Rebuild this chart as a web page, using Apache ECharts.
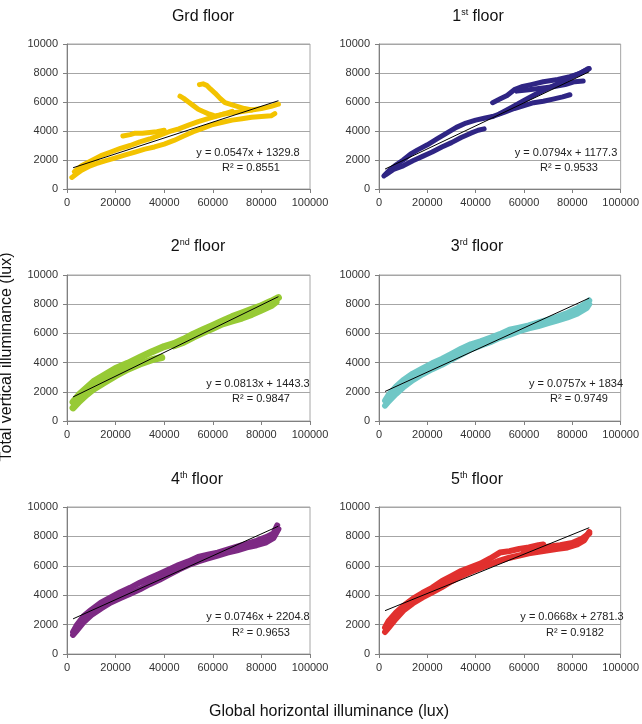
<!DOCTYPE html>
<html>
<head>
<meta charset="utf-8">
<script src="https://cdn.jsdelivr.net/npm/echarts@6/dist/echarts.min.js"></script>
<style>
  html, body { margin: 0; padding: 0; background: #fff; }
  #chart { width: 642px; height: 724px; }
</style>
</head>
<body>
<div id="chart"></div>
<script>
// panel titles (number + superscript)
const titleMain = ['Grd', '1', '2', '3', '4', '5'];
const titleSup = ['', 'st', 'nd', 'rd', 'th', 'th'];

// linear trendlines
const slopes = [0.0547, 0.0794, 0.0813, 0.0757, 0.0746, 0.0668];
const intercepts = [1329.8, 1177.3, 1443.3, 1834, 2204.8, 2781.3];
const rSquared = ['0.8551', '0.9533', '0.9847', '0.9749', '0.9653', '0.9182'];
const trendFrom = [2500, 2500, 2500, 2500, 2500, 2500];
const trendTo = [87000, 87000, 87000, 87000, 87000, 87000];

// Grd floor strands [global horizontal, total vertical]
const grdLow = [[2000,800],[4000,1050],[6000,1300],[9000,1550],[12000,1750],[16000,1950],[20000,2150],[24000,2350],[28000,2550],[32000,2750],[36000,2900],[40000,3100],[44000,3350],[48000,3650],[52000,3950],[56000,4200],[60000,4450],[64000,4600],[68000,4750],[72000,4850],[76000,4950],[80000,5000],[84000,5050],[85500,5200]];
const grdMid = [[3000,1200],[6000,1600],[10000,1950],[14000,2300],[18000,2550],[22000,2800],[26000,3000],[30000,3250],[34000,3450],[38000,3700],[42000,3950],[46000,4150],[50000,4400],[54000,4650],[58000,4850],[62000,5050],[66000,5250],[68000,5350]];
const grdShelf = [[23000,3650],[26000,3750],[28000,3850],[31000,3850],[34000,3900],[37000,3950],[40000,4050]];
const grdRight = [[60000,5000],[64000,5150],[68000,5250],[72000,5350],[76000,5450],[80000,5550],[84000,5700],[87000,5850]];
const grdDrop = [[46500,6400],[48000,6250],[50000,6000],[52000,5750],[54000,5500],[56000,5350],[58000,5200],[60000,5100]];
const grdPeak = [[54500,7200],[56000,7250],[57500,7150],[59000,6900],[61000,6600],[63000,6250],[65000,5950],[67000,5850],[70000,5700],[73000,5550],[76000,5450]];

// 1st floor strands
const f1Upper = [[2000,900],[4000,1250],[7000,1650],[10000,2000],[13000,2400],[16000,2700],[20000,3050],[24000,3450],[28000,3850],[32000,4250],[36000,4550],[40000,4750],[44000,4900],[47000,5000]];
const f1Lower = [[3000,1000],[6000,1350],[10000,1600],[14000,1950],[18000,2250],[22000,2550],[26000,2900],[30000,3200],[34000,3550],[38000,3850],[41000,4050],[43500,4150]];
const f1RightLow = [[47000,5000],[52000,5300],[56000,5550],[60000,5750],[64000,5950],[68000,6050],[72000,6200],[76000,6350],[79000,6500]];
const f1Trend = [[50000,5200],[55000,5650],[60000,6100],[65000,6550],[70000,6950],[75000,7350],[80000,7750],[84000,8050],[87000,8300]];
const f1Arc = [[47000,5950],[50000,6200],[53000,6450],[56000,6850],[59000,7050],[63000,7200],[68000,7400],[74000,7550],[79000,7750],[83000,7950],[86500,8300]];
const f1Mid = [[57000,6750],[62000,6850],[67000,6950],[72000,7050],[77000,7200],[81000,7400],[84500,7450]];

// 2nd floor strands
const f2Upper = [[2500,1300],[5000,1800],[8000,2250],[11000,2700],[15000,3100],[20000,3600],[25000,3950],[30000,4350],[35000,4750],[40000,5100],[44000,5300],[48000,5600],[52000,5950],[56000,6250],[60000,6550],[64000,6850],[68000,7150],[72000,7400],[76000,7650],[80000,7900],[84000,8200],[87000,8450]];
const f2Lower = [[2500,900],[5000,1350],[8000,1800],[11000,2200],[15000,2600],[20000,3100],[25000,3550],[30000,3900],[35000,4200],[39000,4350]];
const f2LowerRight = [[44000,5150],[48000,5400],[52000,5750],[56000,6050],[60000,6350],[64000,6650],[68000,6850],[72000,7050],[76000,7300],[80000,7600],[84000,7900],[86000,8150]];

// 3rd floor strands
const f3Upper = [[2500,1400],[4000,1800],[7000,2350],[10000,2800],[14000,3250],[18000,3600],[22000,3950],[26000,4250],[30000,4600],[34000,4950],[38000,5250],[42000,5450],[46000,5700],[50000,5950],[54000,6250],[58000,6400],[62000,6550],[66000,6750],[70000,6950],[74000,7150],[78000,7400],[82000,7700],[86000,8100],[87000,8250]];
const f3Lower = [[2500,1050],[4000,1350],[7000,1850],[10000,2300],[14000,2800],[18000,3200],[22000,3550],[26000,3850],[30000,4200],[34000,4550],[38000,4900],[42000,5150],[46000,5400],[50000,5700],[54000,5900],[58000,6150],[62000,6350],[66000,6500],[70000,6700],[74000,6900],[78000,7100],[82000,7350],[86000,7750],[87000,8000]];

// 4th floor strands
const f4Upper = [[2500,1500],[4000,1950],[7000,2600],[10000,3000],[14000,3500],[18000,3850],[22000,4200],[26000,4500],[30000,4850],[34000,5150],[38000,5450],[42000,5750],[46000,6050],[50000,6300],[54000,6600],[58000,6750],[62000,6900],[66000,7100],[70000,7300],[74000,7500],[78000,7700],[82000,7950],[85000,8200],[86500,8750]];
const f4Lower = [[2500,1300],[4000,1600],[7000,2200],[10000,2650],[14000,3100],[18000,3500],[22000,3800],[26000,4100],[30000,4400],[34000,4750],[38000,5050],[42000,5400],[46000,5750],[50000,6050],[54000,6300],[58000,6500],[62000,6700],[66000,6900],[70000,7050],[74000,7250],[78000,7400],[82000,7600],[85000,7900],[87000,8500]];

// 5th floor strands
const f5Upper = [[2500,1800],[4000,2250],[7000,2800],[10000,3250],[14000,3750],[18000,4150],[22000,4500],[26000,4950],[30000,5300],[34000,5650],[38000,5900],[42000,6150],[46000,6500],[50000,6900],[54000,7000],[58000,7150],[62000,7250],[66000,7400],[68000,7450]];
const f5Lower = [[2500,1500],[4000,1800],[7000,2400],[10000,2950],[14000,3450],[18000,3850],[22000,4200],[26000,4550],[30000,4950],[34000,5300],[38000,5600],[42000,5850],[46000,6100],[50000,6350],[54000,6550],[58000,6700],[62000,6850],[66000,6950],[70000,7050],[74000,7150],[78000,7250],[82000,7450],[85000,7750],[87000,8300]];
const f5Top = [[60000,7000],[65000,7150],[70000,7300],[75000,7400],[80000,7550],[84000,7850],[87000,8200]];

const strands = [
  [grdLow, grdMid, grdShelf, grdRight, grdDrop, grdPeak],
  [f1Upper, f1Lower, f1RightLow, f1Trend, f1Arc, f1Mid],
  [f2Upper, f2Lower, f2LowerRight],
  [f3Upper, f3Lower],
  [f4Upper, f4Lower],
  [f5Upper, f5Lower, f5Top]
];

const colors = ['#F3C300', '#2F2584', '#97CA35', '#6FC7C6', '#7D2A84', '#E1302E'];
const strandWidth = [5, 5, 7, 6, 6, 6];

// layout (pixels)
const colLeft = [67, 379];
const colWidth = [243, 244];
const rowTop = [44, 275, 507];
const rowHeight = [145, 146, 147];
const titleX = [203, 478, 198, 477, 197, 477];
const titleY = [17, 247, 480];
const eqX = [248, 566, 258, 576, 258, 572];

const font = '"Liberation Sans", Arial, sans-serif';

const chart = echarts.init(document.getElementById('chart'));

const grids = [], xAxes = [], yAxes = [], series = [], titles = [], graphics = [];

for (let i = 0; i < 6; i++) {
  const col = i % 2, row = Math.floor(i / 2);
  grids.push({
    left: colLeft[col], top: rowTop[row], width: colWidth[col], height: rowHeight[row],
    show: true, borderColor: '#A6A6A6', borderWidth: 1, backgroundColor: 'transparent'
  });
  xAxes.push({
    type: 'value', gridIndex: i, min: 0, max: 100000, interval: 20000,
    axisLine: { show: true, onZero: false, lineStyle: { color: '#808080' } },
    axisTick: { show: true, length: 4, lineStyle: { color: '#808080' } },
    splitLine: { show: false },
    axisLabel: { color: '#333', fontSize: 11, fontFamily: font, margin: 8, formatter: v => String(v) }
  });
  yAxes.push({
    type: 'value', gridIndex: i, min: 0, max: 10000, interval: 2000,
    axisLine: { show: true, onZero: false, lineStyle: { color: '#808080' } },
    axisTick: { show: true, length: 4, lineStyle: { color: '#808080' } },
    splitLine: { show: true, lineStyle: { color: '#A6A6A6', width: 1 } },
    axisLabel: { color: '#333', fontSize: 11, fontFamily: font, margin: 9, formatter: v => String(v) }
  });

  strands[i].forEach(s => {
    series.push({
      type: 'line', xAxisIndex: i, yAxisIndex: i, data: s,
      showSymbol: false, symbol: 'none', silent: true, animation: false,
      lineStyle: { color: colors[i], width: strandWidth[i], cap: 'round', join: 'round' }
    });
  });

  // trendline from the fitted equation
  const m = slopes[i], b = intercepts[i];
  series.push({
    type: 'line', xAxisIndex: i, yAxisIndex: i, z: 5,
    data: [[trendFrom[i], m * trendFrom[i] + b], [trendTo[i], m * trendTo[i] + b]],
    showSymbol: false, symbol: 'none', silent: true, animation: false,
    lineStyle: { color: '#000', width: 1 }
  });

  const sup = titleSup[i] ? '{s|' + titleSup[i] + '}' : '';
  titles.push({
    text: '{a|' + titleMain[i] + '}' + sup + '{a| floor}',
    left: titleX[i], top: titleY[row] - 9, textAlign: 'center', padding: 0,
    textStyle: {
      fontWeight: 'normal',
      rich: {
        a: { fontSize: 16, fontFamily: font, fontWeight: 'normal', color: '#111', lineHeight: 18 },
        s: { fontSize: 9, fontFamily: font, fontWeight: 'normal', color: '#111', verticalAlign: 'top', lineHeight: 18 }
      }
    }
  });

  const eqTop = rowTop[row] + (row === 2 ? 110 : 108.5);
  graphics.push({
    type: 'text', x: eqX[i], y: eqTop, z: 10,
    style: { text: 'y = ' + m + 'x + ' + b, font: '11px ' + font, fill: '#222', align: 'center', verticalAlign: 'middle' }
  });
  graphics.push({
    type: 'text', x: eqX[i] + 3, y: eqTop + 15.5, z: 10,
    style: { text: 'R² = ' + rSquared[i], font: '11px ' + font, fill: '#222', align: 'center', verticalAlign: 'middle' }
  });
}

graphics.push({
  type: 'text', x: 7, y: 357, rotation: Math.PI / 2,
  style: { text: 'Total vertical illuminance (lux)', font: '16px ' + font, fill: '#111', align: 'center', verticalAlign: 'middle' }
});
graphics.push({
  type: 'text', x: 329, y: 712,
  style: { text: 'Global horizontal illuminance (lux)', font: '16px ' + font, fill: '#111', align: 'center', verticalAlign: 'middle' }
});

chart.setOption({
  animation: false,
  textStyle: { fontFamily: font },
  title: titles,
  grid: grids,
  xAxis: xAxes,
  yAxis: yAxes,
  series: series,
  graphic: graphics
});
</script>
</body>
</html>
